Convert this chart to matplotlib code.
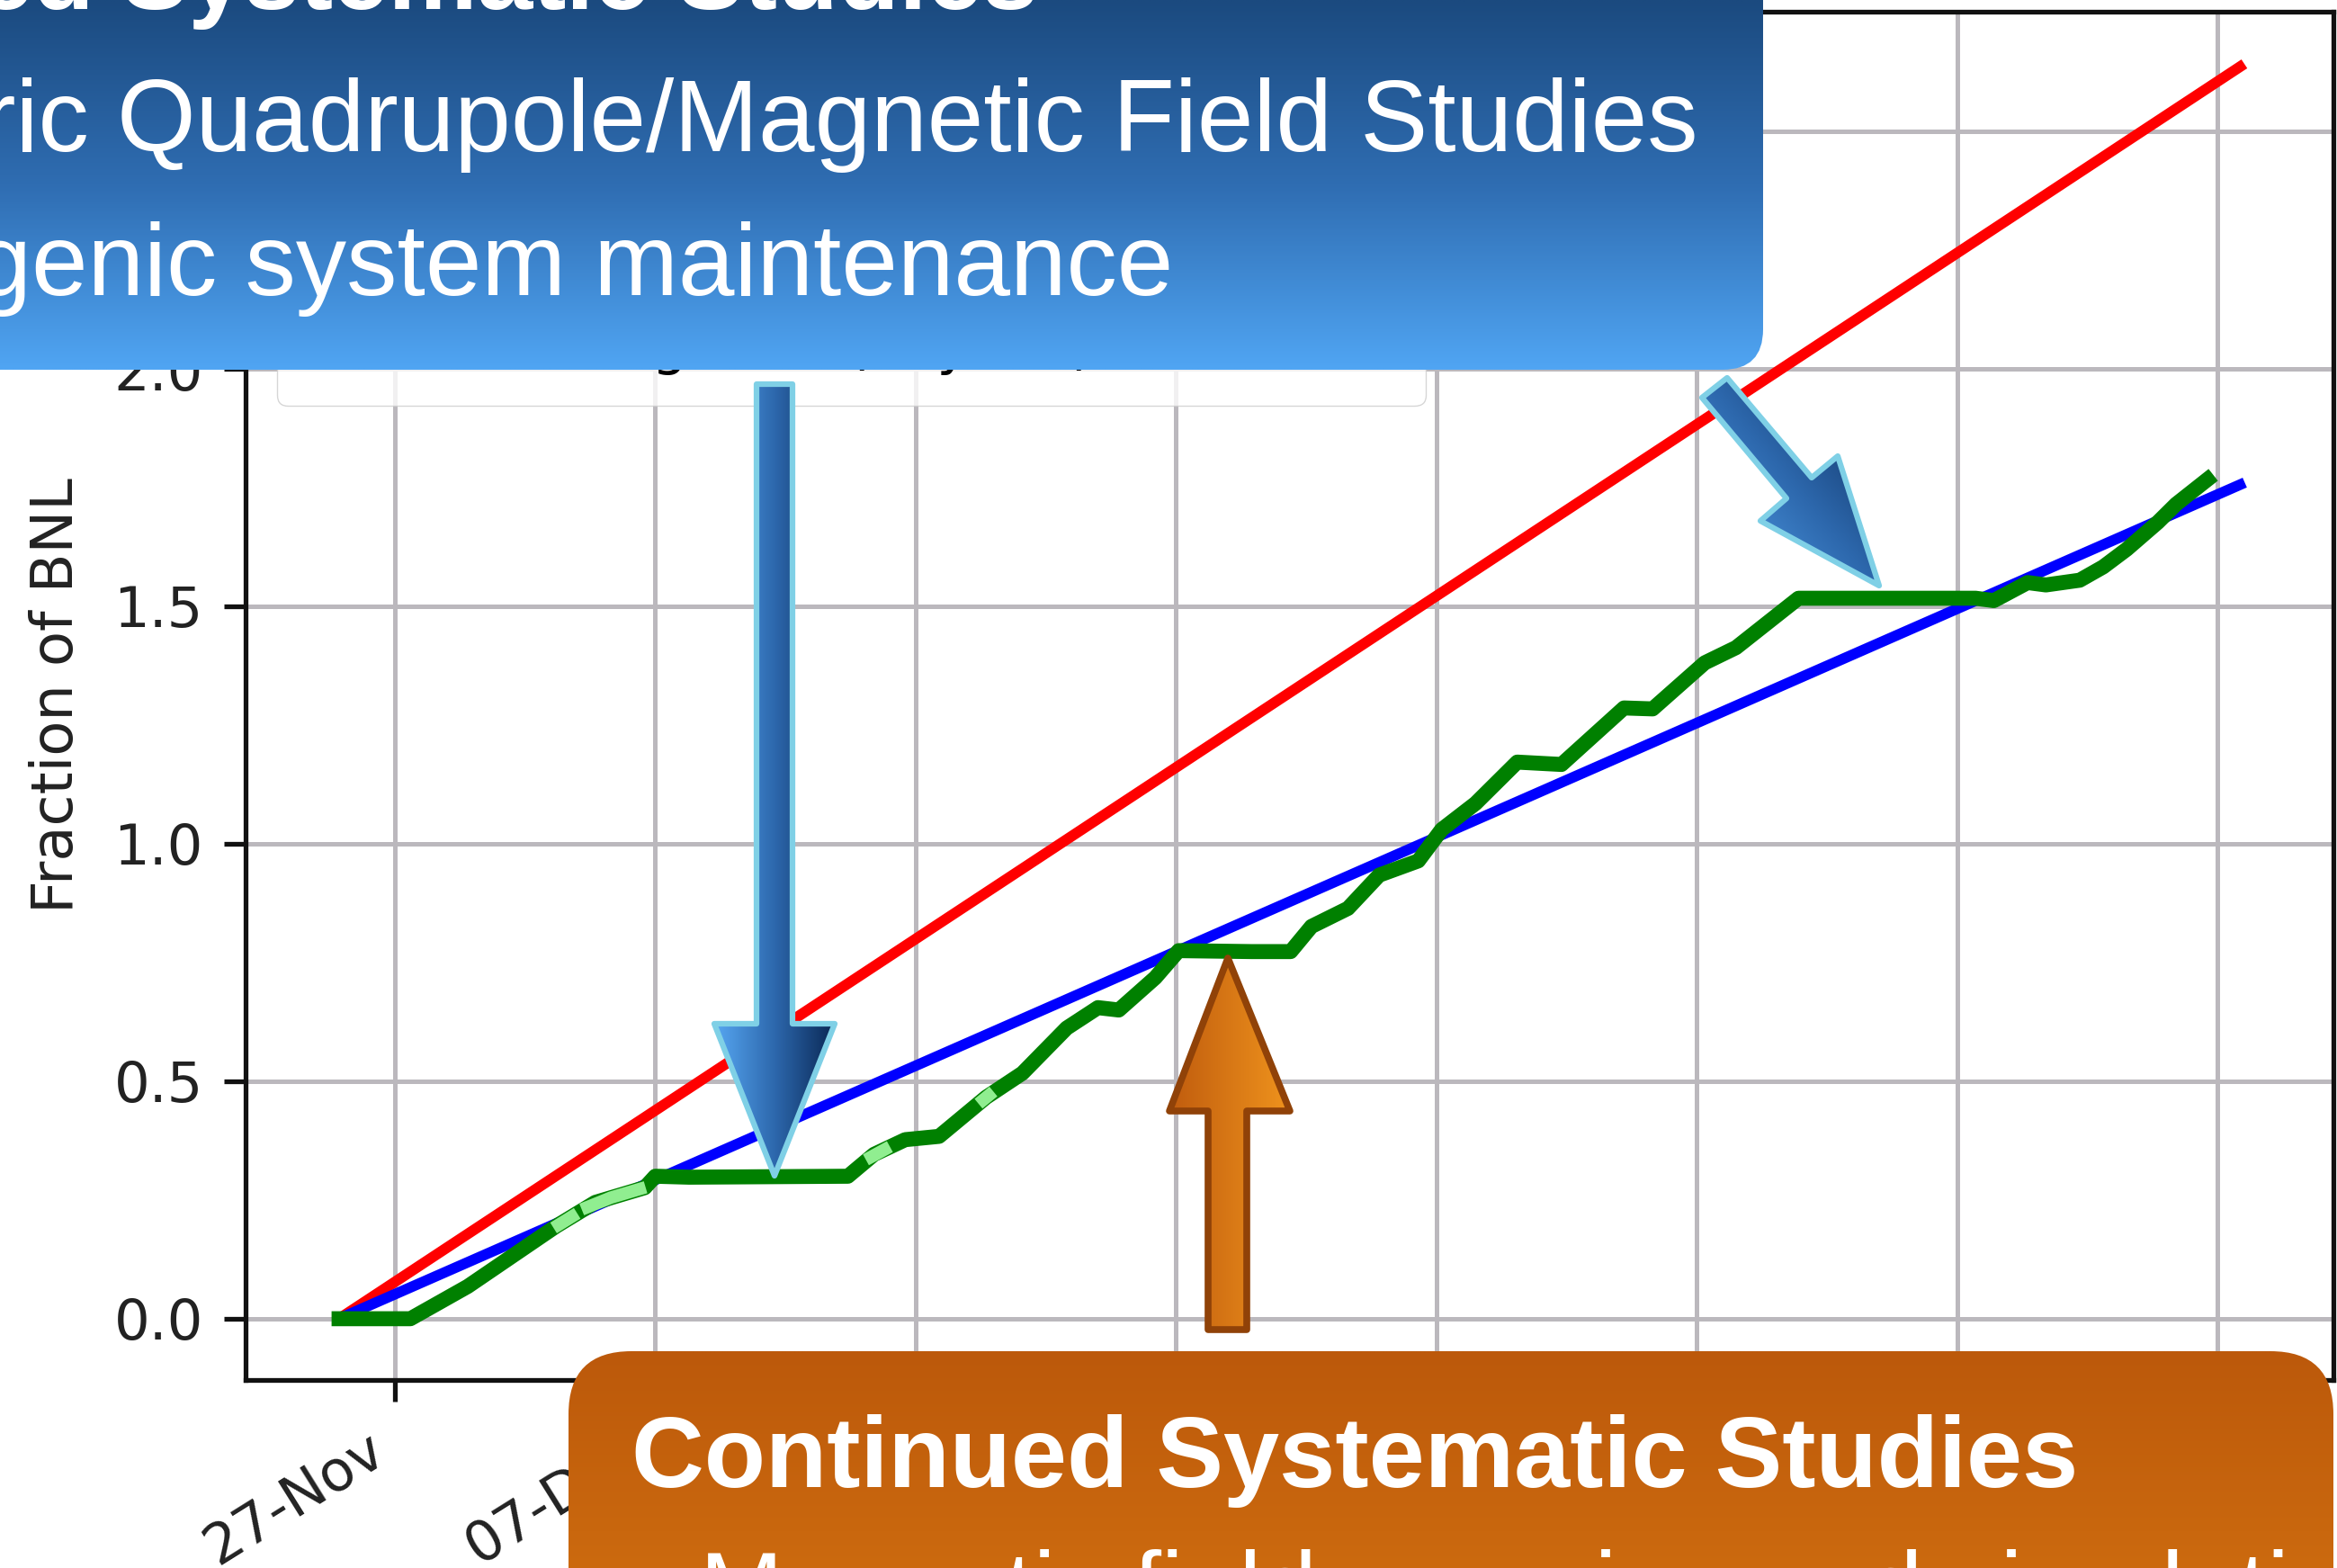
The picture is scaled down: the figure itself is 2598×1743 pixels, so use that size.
import numpy as np
import matplotlib
matplotlib.use('Agg')
import matplotlib.pyplot as plt
import matplotlib.dates as mdates
from matplotlib.patches import Polygon, FancyBboxPatch
from matplotlib.colors import LinearSegmentedColormap
from datetime import datetime

W, H = 2598, 1743

# data (days counted from 27-Nov)
start_date = datetime(2019, 11, 27)
tick_days = [0, 10, 20, 30, 40, 50, 60, 70]

goal_days = [-2.14, 70.85]
goal_frac = [0.0, 2.636]

plan_days = [-2.14, 70.85]
plan_frac = [0.0, 1.756]

run_days = [-2.14, 0.6, 2.8, 6.2, 7.7, 9.6, 10.0, 11.3, 17.4, 18.4, 19.6, 20.9,
            22.7, 24.1, 25.8, 27.0, 27.8, 29.2, 30.1, 32.9, 34.4, 35.2, 36.6,
            37.8, 39.3, 40.2, 41.5, 43.1, 44.8, 47.2, 48.3, 50.3, 51.5, 53.9,
            60.7, 61.4, 62.7, 63.4, 64.7, 65.6, 66.5, 67.7, 68.4, 69.6]
run_frac = [0.0, 0.0, 0.068, 0.195, 0.245, 0.276, 0.300, 0.298, 0.300, 0.346,
            0.377, 0.384, 0.466, 0.517, 0.612, 0.655, 0.650, 0.718, 0.775,
            0.773, 0.773, 0.826, 0.864, 0.934, 0.964, 1.030, 1.085, 1.172,
            1.167, 1.286, 1.284, 1.381, 1.413, 1.517, 1.517, 1.512, 1.550,
            1.545, 1.555, 1.583, 1.620, 1.677, 1.715, 1.767]

nan = np.nan
hl_days = [6.3, 6.8, nan, 7.4, 8.3, 9.4, nan, 18.3, 18.8, nan, 22.6, 22.8]
hl_frac = [0.198, 0.215, nan, 0.235, 0.255, 0.273, nan, 0.341, 0.356, nan, 0.461, 0.470]

legend_labels = ['Goal', 'Planned', 'Running total (Physics)']

x0 = mdates.date2num(start_date)

fig = plt.figure(figsize=(W / 100, H / 100), dpi=100)
ax = fig.add_axes([273 / W, 1 - 1534 / H, (2594 - 273) / W, (1534 - 13) / H])

l1, = ax.plot(x0 + np.array(goal_days), goal_frac, color='red', lw=8.5)
l2, = ax.plot(x0 + np.array(plan_days), plan_frac, color='blue', lw=8.5)
l3, = ax.plot(x0 + np.array(run_days), run_frac, color='green', lw=12)
ax.plot(x0 + np.array(hl_days), hl_frac, color='lightgreen', lw=10)

ax.set_xlim(x0 - 5.73, x0 + 74.44)
ax.set_ylim(-0.129, 2.752)
ax.set_xticks(x0 + np.array(tick_days))
ax.xaxis.set_major_formatter(mdates.DateFormatter('%d-%b'))
ax.set_yticks([0.0, 0.5, 1.0, 1.5, 2.0, 2.5])
ax.yaxis.set_major_formatter(matplotlib.ticker.FormatStrFormatter('%.1f'))
ax.grid(True, color='#bbb8bd', lw=3.6)
ax.set_axisbelow(True)
for s in ax.spines.values():
    s.set_linewidth(3.8)
    s.set_color('#111111')
ax.tick_params(labelsize=45, length=17, width=3.8, pad=17, color='#111111',
               labelcolor='#222222')
plt.setp(ax.get_xticklabels(), rotation=32, ha='right')
ax.set_ylabel('Fraction of BNL', fontsize=46, color='#222222')
ax.yaxis.set_label_coords(-0.077, 0.5)

ax.legend([l1, l2, l3], legend_labels, fontsize=44, loc='lower left',
          bbox_to_anchor=(0.0151, 0.712, 0.550, 0), mode='expand',
          borderaxespad=0, borderpad=0.55)

# overlay drawn in pixel coordinates
ov = fig.add_axes([0, 0, 1, 1], zorder=10)
ov.set_xlim(0, W)
ov.set_ylim(H, 0)
ov.axis('off')


def grad_fill(patch, colors, direction, bounds):
    patch.set_facecolor('none')
    patch.set_edgecolor('none')
    ov.add_patch(patch)
    bx0, by0, bx1, by1 = bounds
    X, Y = np.meshgrid(np.linspace(bx0, bx1, 300), np.linspace(by0, by1, 300))
    t = X * direction[0] + Y * direction[1]
    t = (t - t.min()) / (t.max() - t.min())
    cmap = LinearSegmentedColormap.from_list('g', colors)
    im = ov.imshow(t, extent=(bx0, bx1, by1, by0), origin='upper', cmap=cmap,
                   aspect='auto', interpolation='bilinear')
    im.set_clip_path(patch)


def outline(verts, edge, lw):
    ov.add_patch(Polygon(verts, closed=True, facecolor='none', edgecolor=edge,
                         lw=lw, joinstyle='round'))


# blue box at the top
blue_box = FancyBboxPatch((-100, -100), 1960 + 100, 411 + 100,
                          boxstyle='round,pad=0,rounding_size=45')
grad_fill(blue_box, ['#1b4a7f', '#2f6db2', '#50a5f3'], (0, 1), (-100, 0, 1960, 411))

# orange box at the bottom
orange_box = FancyBboxPatch((632, 1502), 2594 - 632, 400,
                            boxstyle='round,pad=0,rounding_size=70')
grad_fill(orange_box, ['#bc590b', '#d67511'], (0, 1), (632, 1502, 2594, 1902))

# big blue arrow pointing down
arrow1 = [(841, 427), (881, 427), (881, 1138), (928, 1138), (861, 1307),
          (794, 1138), (841, 1138)]
grad_fill(Polygon(arrow1, closed=True), ['#57a7f2', '#2d68ad', '#0a2855'], (1, 0),
          (794, 427, 928, 1307))
outline(arrow1, '#7fd0e6', 4.5)

# small diagonal blue arrow
arrow2 = [(1892, 442), (1920, 420), (2014, 531), (2043, 507), (2089, 651),
          (1957, 579), (1986, 554)]
grad_fill(Polygon(arrow2, closed=True), ['#57a7f2', '#2d68ad', '#0a2855'], (220, -183),
          (1892, 420, 2089, 651))
outline(arrow2, '#7fd0e6', 4.5)

# orange arrow pointing up
arrow3 = [(1343, 1478), (1343, 1235), (1300, 1235), (1365, 1065), (1434, 1235),
          (1386, 1235), (1386, 1478)]
grad_fill(Polygon(arrow3, closed=True), ['#c05c0e', '#ef931d'], (1, 0),
          (1300, 1065, 1434, 1478))
outline(arrow3, '#904208', 5.5)

ov.set_xlim(0, W)
ov.set_ylim(H, 0)

sans = ['Liberation Sans', 'DejaVu Sans']
ov.text(1154, 10, 'Dedicated Systematic Studies', color='white', fontsize=80,
        fontweight='bold', family=sans, ha='right', va='baseline')
ov.text(1888, 168, '\u2013 Electric Quadrupole/Magnetic Field Studies', color='white',
        fontsize=81, family=sans, ha='right', va='baseline')
ov.text(1304, 328, '\u2013 Cryogenic system maintenance', color='white',
        fontsize=81, family=sans, ha='right', va='baseline')
ov.text(702, 1653, 'Continued Systematic Studies', color='white', fontsize=80.5,
        fontweight='bold', family=sans, ha='left', va='baseline')
ov.text(778, 1803, 'Magnetic field mapping and simulation', color='white',
        fontsize=80, family=sans, ha='left', va='baseline')

fig.savefig('out.png', dpi=100)
